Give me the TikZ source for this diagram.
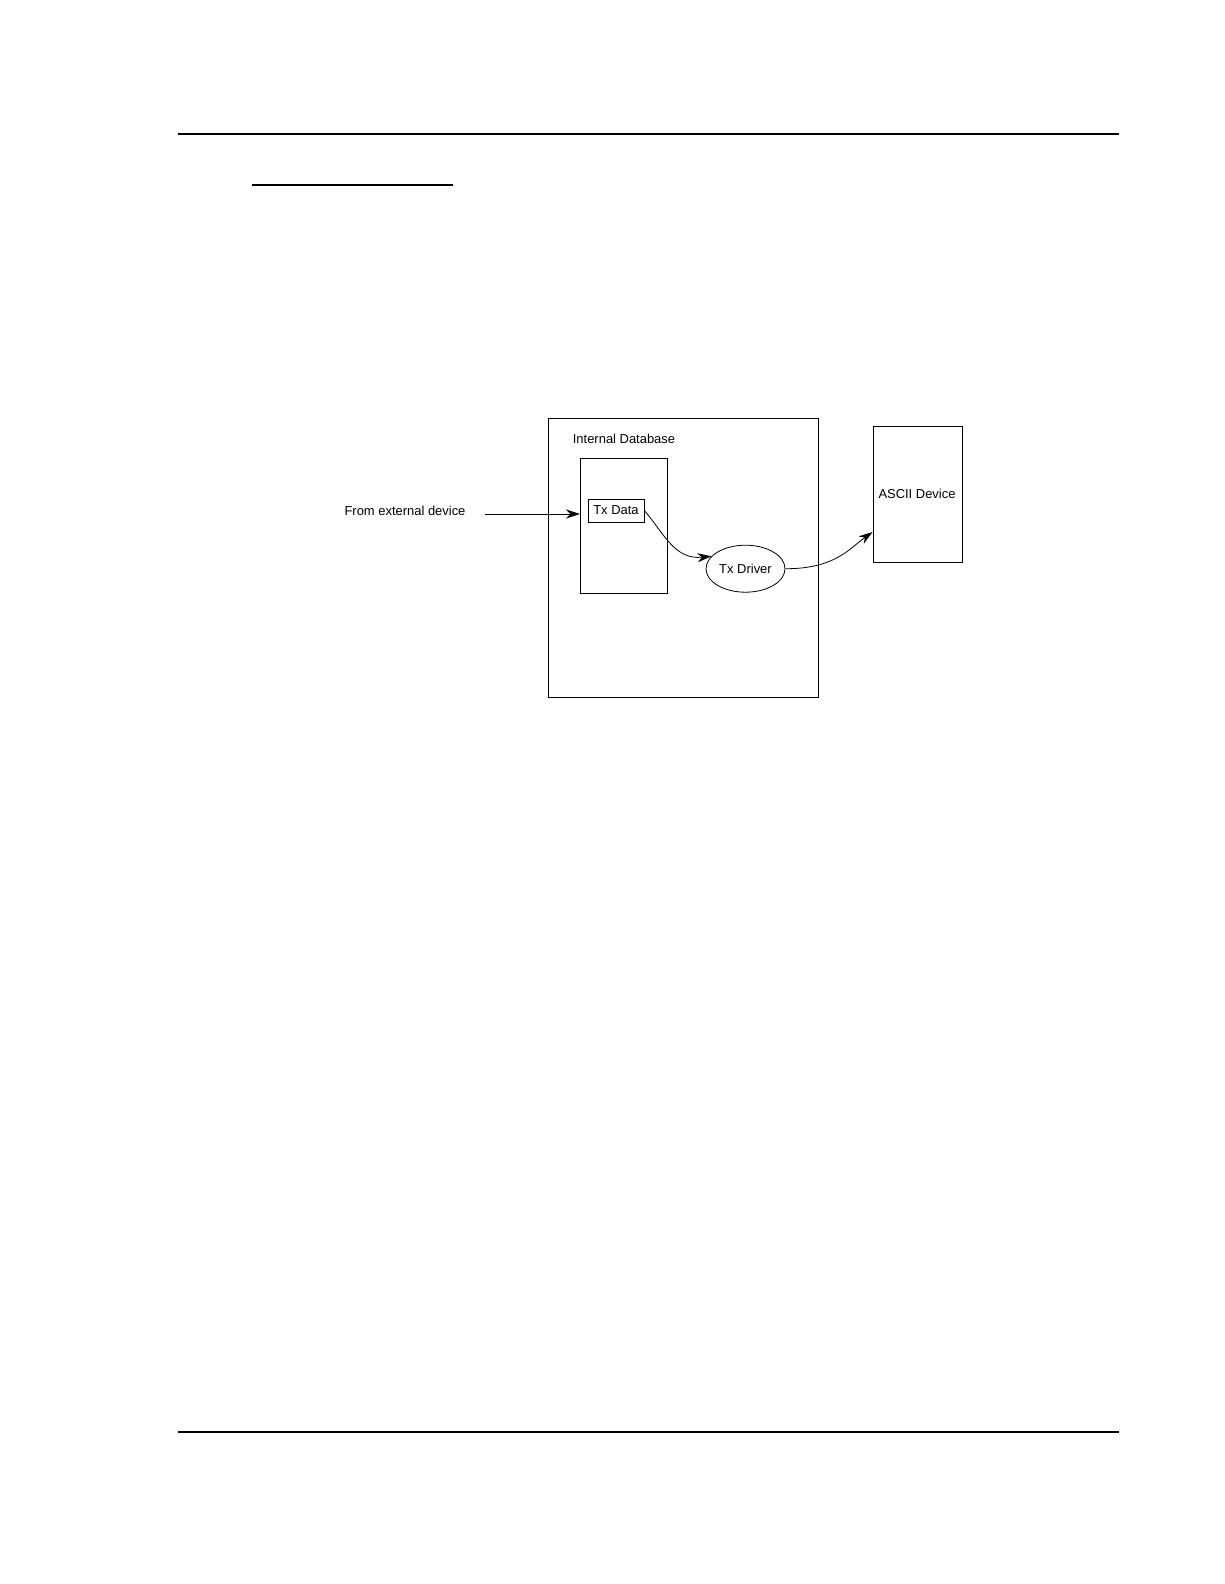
\documentclass[tikz,border=0pt]{standalone}
\usepackage{fontspec}
\setmainfont{Liberation Sans}
\usetikzlibrary{arrows.meta,shapes.geometric}

\begin{document}
\begin{tikzpicture}[x=1bp,y=-1bp,line width=0.8pt,
	lbl/.style={font=\fontsize{13}{15}\selectfont,inner sep=0pt},
	flow/.style={-{Stealth[length=14bp,width=9bp,inset=4.5bp]},line width=0.8pt}]
	\useasboundingbox (0,0) rectangle (1224,1584);
	% page rules
	\draw[line width=1.4pt] (178,134) -- (1119,134);
	\draw[line width=1.4pt] (251.5,185) -- (452.5,185);
	\draw[line width=1.4pt] (178,1432) -- (1119,1432);

	\draw (548,418) rectangle (818,697);
	\node[lbl] (db) at (624,439) {Internal Database};
	\draw (580,458) rectangle (667,593);
	\node[lbl,draw,minimum width=56bp,minimum height=23bp] (txdata) at (616,510.5) {Tx Data};
	\node[lbl,draw,ellipse,minimum width=79bp,minimum height=47bp] (txdrv) at (745.5,568.7) {Tx Driver};
	\node[lbl,draw,minimum width=89bp,minimum height=136bp] (ascii) at (917.5,494) {};
	\node[lbl] at (917,494) {ASCII Device};
	\node[lbl] (ext) at (405,511) {From external device};
	\coordinate (extend) at (485,514);

	\draw[flow] (extend) -- (580,514);
	\draw[flow] (txdata.east) .. controls (665,535) and (675,560) .. (txdrv.160);
	\draw[flow] (txdrv.east) .. controls (835,569) and (850,548) .. (ascii.west |- 0,532);
\end{tikzpicture}
\end{document}
